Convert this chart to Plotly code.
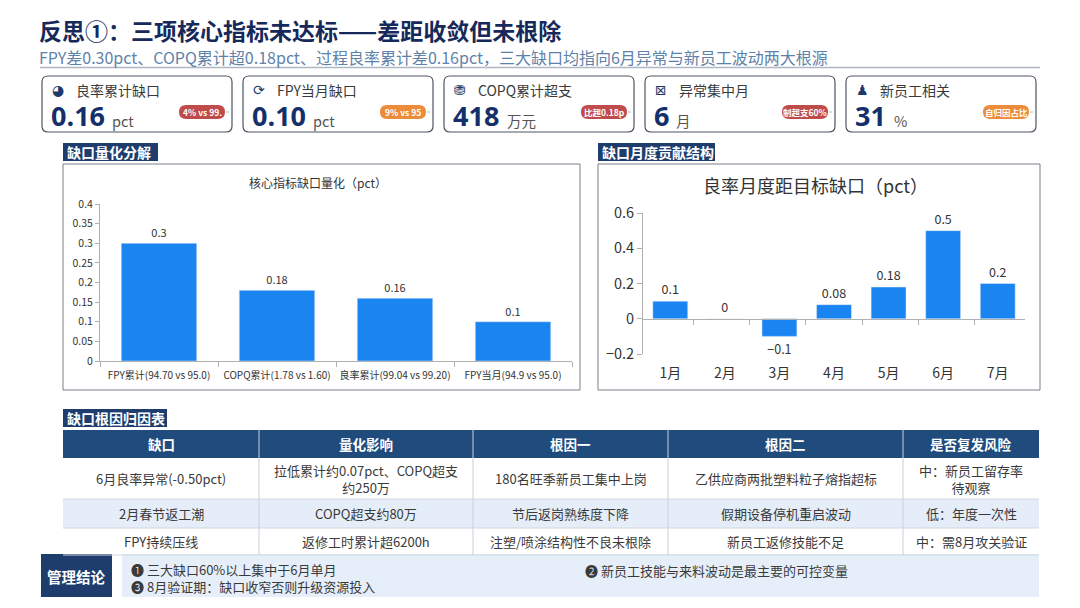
import plotly.graph_objects as go

W, H = 1080, 608
FONT = "Noto Sans CJK SC"
NAVY = "#1b3a6b"
BLUE = "#1a84f0"

# ---------------- data ----------------
title = "反思①：三项核心指标未达标——差距收敛但未根除"
subtitle = "FPY差0.30pct、COPQ累计超0.18pct、过程良率累计差0.16pct，三大缺口均指向6月异常与新员工波动两大根源"

kpi_icons = ["◕", "⟳", "⛃", "⊠", "♟"]
kpi_labels = ["良率累计缺口", "FPY当月缺口", "COPQ累计超支", "异常集中月", "新员工相关"]
kpi_values = ["0.16", "0.10", "418", "6", "31"]
kpi_units = ["pct", "pct", "万元", "月", "%"]
kpi_badges = ["4% vs 99.", "9% vs 95", "比超0.18p", "制超支60%", "自归因占比"]
kpi_badge_colors = ["#bf4b4b", "#ec8c3a", "#bf4b4b", "#bf4b4b", "#ec8c3a"]

gap_cats = ["FPY累计(94.70 vs 95.0)", "COPQ累计(1.78 vs 1.60)", "良率累计(99.04 vs 99.20)", "FPY当月(94.9 vs 95.0)"]
gap_vals = [0.30, 0.18, 0.16, 0.10]

months = ["1月", "2月", "3月", "4月", "5月", "6月", "7月"]
month_gap = [0.1, 0, -0.1, 0.08, 0.18, 0.5, 0.2]

table_header = ["缺口", "量化影响", "根因一", "根因二", "是否复发风险"]
table_rows = [
    ["6月良率异常(-0.50pct)", "拉低累计约0.07pct、COPQ超支<br>约250万", "180名旺季新员工集中上岗", "乙供应商两批塑料粒子熔指超标", "中：新员工留存率<br>待观察"],
    ["2月春节返工潮", "COPQ超支约80万", "节后返岗熟练度下降", "假期设备停机重启波动", "低：年度一次性"],
    ["FPY持续压线", "返修工时累计超6200h", "注塑/喷涂结构性不良未根除", "新员工返修技能不足", "中：需8月攻关验证"],
]

conclusions = ["❶ 三大缺口60%以上集中于6月单月", "❷ 新员工技能与来料波动是最主要的可控变量", "❸ 8月验证期：缺口收窄否则升级资源投入"]


# ---------------- helpers ----------------
def X(px):
    return px / W


def Y(py):
    return 1 - py / H


shapes = []
annotations = []


def rect(x0, y0, x1, y1, fill, line=None, lw=1):
    shapes.append(dict(type="rect", xref="paper", yref="paper",
                       x0=X(x0), x1=X(x1), y0=Y(y1), y1=Y(y0),
                       fillcolor=fill, line=dict(color=line or fill, width=lw if line else 0),
                       layer="below"))


def rrect(x0, y0, x1, y1, r, fill, line=None, lw=1, layer="below"):
    pts = [
        ("M", (x0 + r, y0)), ("L", (x1 - r, y0)), ("Q", (x1, y0), (x1, y0 + r)),
        ("L", (x1, y1 - r)), ("Q", (x1, y1), (x1 - r, y1)),
        ("L", (x0 + r, y1)), ("Q", (x0, y1), (x0, y1 - r)),
        ("L", (x0, y0 + r)), ("Q", (x0, y0), (x0 + r, y0)),
    ]
    s = ""
    for p in pts:
        s += p[0] + " " + " ".join(f"{X(a):.5f},{Y(b):.5f}" for a, b in p[1:]) + " "
    s += "Z"
    shapes.append(dict(type="path", xref="paper", yref="paper", path=s,
                       fillcolor=fill, line=dict(color=line or fill, width=lw if line else 0),
                       layer=layer))


def text(x, y, t, size=12, color="#333", bold=False, xanchor="left", yanchor="middle", family=FONT, align="center"):
    if bold:
        t = f"<b>{t}</b>"
    annotations.append(dict(x=X(x), y=Y(y), xref="paper", yref="paper", text=t, showarrow=False,
                            xanchor=xanchor, yanchor=yanchor, align=align, borderpad=0,
                            font=dict(size=size, color=color, family=family)))


def line(x0, y0, x1, y1, color, w=1):
    shapes.append(dict(type="line", xref="paper", yref="paper", x0=X(x0), x1=X(x1), y0=Y(y0), y1=Y(y1),
                       line=dict(color=color, width=w)))


# ---------------- header ----------------
text(38, 29.5, title, size=23, color="#16295a", bold=True)
text(38, 57, subtitle, size=16, color="#5f82aa")
line(40, 67.5, 1040, 67.5, "#aeb7c3", 1.5)

# ---------------- KPI cards ----------------
card_x = [42, 243, 444, 645, 846]
card_w = 190
for i in range(5):
    x0 = card_x[i]
    rrect(x0, 76, x0 + card_w, 132, 6, "white", "#4d5563", 1.2)
    text(x0 + 9, 90, kpi_icons[i], size=14, color=NAVY, family="DejaVu Sans")
    text(x0 + 33, 90, kpi_labels[i], size=14, color="#3a3a3a")
    text(x0 + 8, 116, kpi_values[i], size=27, color="#14306a", bold=True, family="Open Sans")
    vw = {"0.16": 57, "0.10": 57, "418": 50, "6": 18, "31": 35}[kpi_values[i]]
    text(x0 + 12 + vw, 120, kpi_units[i], size=14.5, color="#555")
    bx0, bx1 = x0 + 137, x0 + 183
    rrect(bx0, 105, bx1, 119, 7, kpi_badge_colors[i], layer="above")
    text((bx0 + bx1) / 2, 112, kpi_badges[i], size=8.5, color="white", bold=True, xanchor="center")
    line(bx1 + 1, 112, bx1 + 4, 112, "#dddddd", 2)

# ---------------- section labels ----------------
def section(x0, y0, x1, y1, t):
    rect(x0, y0, x1, y1, "#1e3d6d")
    text(x0 + 3, (y0 + y1) / 2, t, size=14, color="white", bold=True)


section(63, 143, 158, 161, "缺口量化分解")
section(598, 143, 715, 161, "缺口月度贡献结构")
section(63, 409, 167, 427, "缺口根因归因表")

# chart frames
rect(63, 164, 580, 390, "white", "#7a7f88", 1)
rect(598, 164, 1040, 390, "white", "#7a7f88", 1)
text(318, 182, "核心指标缺口量化（pct）", size=12, color="#333", xanchor="center")
text(815, 185, "良率月度距目标缺口（pct）", size=18, color="#333", xanchor="center")

# ---------------- table ----------------
col_x = [63, 259, 473, 668, 903, 1039]
row_y = [430, 458, 499, 528, 555]
rect(col_x[0], row_y[0], col_x[-1], row_y[1], "#1f4b7d")
for j, h in enumerate(table_header):
    text((col_x[j] + col_x[j + 1]) / 2, (row_y[0] + row_y[1]) / 2, h, size=13.5, color="white", bold=True, xanchor="center")
row_fill = ["white", "#e4edf8", "white"]
for r, row in enumerate(table_rows):
    rect(col_x[0], row_y[r + 1], col_x[-1], row_y[r + 2], row_fill[r])
    line(col_x[0], row_y[r + 2], col_x[-1], row_y[r + 2], "#d0d7e0", 1)
    for j, cell in enumerate(row):
        text((col_x[j] + col_x[j + 1]) / 2, (row_y[r + 1] + row_y[r + 2]) / 2, cell, size=13, color="#3a3a3a", xanchor="center")
for cx in col_x[1:-1]:
    line(cx, row_y[0], cx, row_y[-1], "#c9d1dc", 1)

# ---------------- conclusion ----------------
rect(122, 554, 1039, 597, "#e6eff9")
rect(41, 554, 112, 597, "#1e3d6d")
text(76.5, 576, "管理结论", size=14.5, color="white", bold=True, xanchor="center")
text(130, 578, conclusions[0] + "<br>" + conclusions[2], size=13, color="#3a3a3a", align="left")
text(584, 570, conclusions[1], size=13, color="#3a3a3a")

# ---------------- charts ----------------
fig = go.Figure()
fig.add_trace(go.Bar(x=gap_cats, y=gap_vals, marker_color=BLUE, texttemplate="%{y}",
                     textposition="outside", cliponaxis=False,
                     textfont=dict(size=11, color="#333", family=FONT), xaxis="x", yaxis="y",
                     hoverinfo="skip"))
fig.add_trace(go.Bar(x=months, y=month_gap, marker_color=BLUE, texttemplate="%{y}",
                     textposition="outside", cliponaxis=False,
                     textfont=dict(size=12.5, color="#333", family=FONT), xaxis="x2", yaxis="y2",
                     hoverinfo="skip"))
fig.add_trace(go.Scatter(x=months, y=month_gap, mode="markers", marker=dict(opacity=0),
                         xaxis="x3", yaxis="y2", hoverinfo="skip"))

axis_font = dict(family=FONT, color="#333")
fig.update_layout(
    width=W, height=H, margin=dict(l=0, r=0, t=0, b=0, pad=0, autoexpand=False),
    paper_bgcolor="white", plot_bgcolor="rgba(0,0,0,0)",
    showlegend=False, bargap=0.36,
    shapes=shapes, annotations=annotations,
    xaxis=dict(domain=[X(100), X(572)], anchor="y", showline=True, linecolor="#b0b0b0", automargin=False,
               ticks="outside", tickson="boundaries", ticklen=5, tickcolor="#b0b0b0", tickangle=0,
               ticklabelstandoff=5,
               tickfont=dict(size=10, **axis_font), showgrid=False, fixedrange=True),
    yaxis=dict(domain=[Y(361), Y(204)], anchor="x", range=[0, 0.4], dtick=0.05, automargin=False,
               showline=True, linecolor="#b0b0b0", ticks="outside", ticklen=4, tickcolor="#b0b0b0",
               tickfont=dict(size=10.5, **axis_font), showgrid=False, zeroline=False),
    xaxis2=dict(domain=[X(643), X(1025)], anchor="y2", showline=False, ticks="", tickangle=0, automargin=False,
                ticklabelstandoff=9,
                tickfont=dict(size=14, **axis_font), showgrid=False),
    xaxis3=dict(overlaying="x2", anchor="free", position=Y(319), showline=True, linecolor="#b0b0b0",
                ticks="outside", tickson="boundaries", ticklen=5, tickcolor="#b0b0b0", automargin=False,
                showticklabels=False, showgrid=False, categoryorder="array", categoryarray=months),
    yaxis2=dict(domain=[Y(354), Y(213)], anchor="x2", range=[-0.2, 0.6], dtick=0.2, automargin=False,
                showline=True, linecolor="#b0b0b0", ticks="outside", ticklen=5, tickcolor="#b0b0b0",
                tickfont=dict(size=14.5, **axis_font), showgrid=False, zeroline=False),
)

fig.write_html("out.html", config={"displayModeBar": False},
               post_script="document.body.style.margin='0';document.body.style.overflow='hidden';")
